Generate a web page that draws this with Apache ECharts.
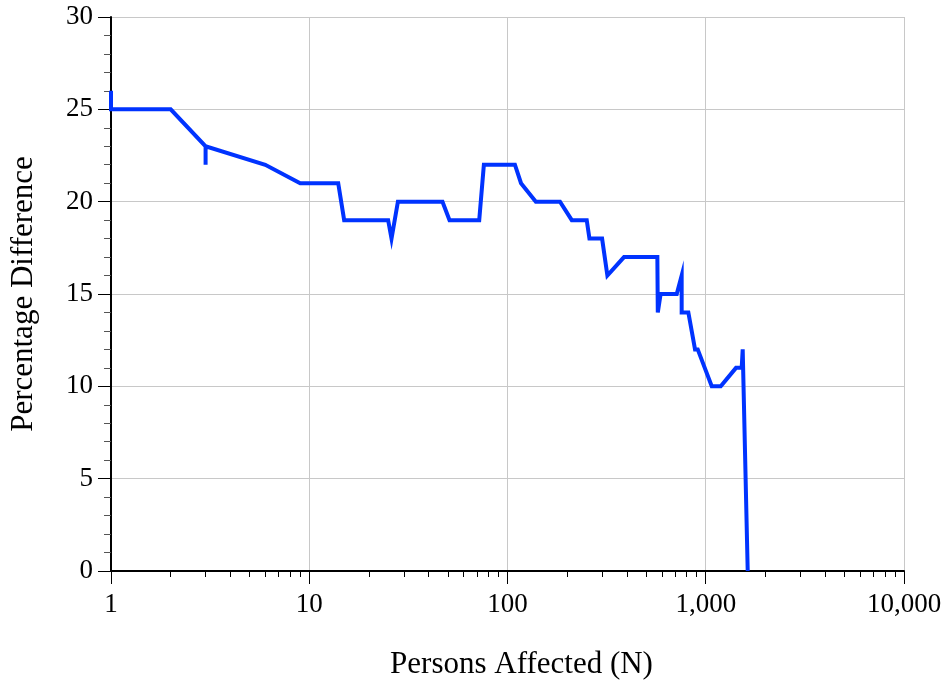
<!DOCTYPE html>
<html>
<head>
<meta charset="utf-8">
<script src="https://cdn.jsdelivr.net/npm/echarts@6/dist/echarts.min.js"></script>
<style>
html,body{margin:0;padding:0;background:#fff;}
#chart{width:942px;height:680px;}
</style>
</head>
<body>
<div id="chart"></div>
<script>
// Persons affected (N) and percentage difference
const personsAffected = [1, 1, 2, 3, 3, 3, 6, 9, 14, 15, 25, 26, 28, 47, 51, 72, 76, 109, 117, 139, 184, 211, 251, 259, 300, 319, 387, 570, 573, 592, 714, 756, 756, 817, 883, 911, 1072, 1190, 1421, 1518, 1536, 1628];
const percentageDifference = [26, 25, 25, 23, 22, 23, 22, 21, 21, 19, 19, 18, 20, 20, 19, 19, 22, 22, 21, 20, 20, 19, 19, 18, 18, 16, 17, 17, 14, 15, 15, 16, 14, 14, 12, 12, 10, 10, 11, 11, 12, 0];
const xMajorTicks = [1, 10, 100, 1000, 10000];
const xTickLabels = ['1', '10', '100', '1,000', '10,000'];
const xMinorTicks = [2,3,4,5,6,7,8,9,20,30,40,50,60,70,80,90,200,300,400,500,600,700,800,900,2000,3000,4000,5000,6000,7000,8000,9000];

const points = personsAffected.map((x, i) => [x, percentageDifference[i]]);
const font = 'Liberation Serif';

const chart = echarts.init(document.getElementById('chart'), null, {renderer: 'canvas'});
chart.setOption({
  backgroundColor: '#ffffff',
  animation: false,
  grid: {left: 111, right: 38, top: 17, bottom: 109, containLabel: false, outerBoundsMode: 'none'},
  xAxis: [{
    type: 'log', logBase: 10, min: 1, max: 10000,
    name: 'Persons Affected (N)', nameLocation: 'middle', nameGap: 78,
    nameTextStyle: {fontFamily: font, fontSize: 31, color: '#000', padding: [0, 0, 0, 28]},
    axisLine: {show: true, onZero: false, lineStyle: {color: '#000', width: 2}},
    axisTick: {show: true, length: 13, lineStyle: {color: '#000', width: 1}},
    axisLabel: {
      margin: 20, fontFamily: font, fontSize: 27, color: '#000',
      formatter: function (v) { const i = xMajorTicks.indexOf(Math.round(v)); return i >= 0 ? xTickLabels[i] : ''; }
    },
    splitLine: {show: true, lineStyle: {color: '#c8c8c8', width: 1}}
  }, {
    type: 'log', logBase: 10, min: 1, max: 10000, position: 'bottom',
    axisLine: {show: false},
    axisTick: {show: true, length: 6, customValues: xMinorTicks, lineStyle: {color: '#000', width: 1}},
    axisLabel: {show: false},
    splitLine: {show: false}
  }],
  yAxis: {
    type: 'value', min: 0, max: 30, interval: 5,
    name: 'Percentage Difference', nameLocation: 'middle', nameGap: 72,
    nameTextStyle: {fontFamily: font, fontSize: 31, color: '#000'},
    axisLine: {show: true, lineStyle: {color: '#000', width: 2}},
    axisTick: {show: true, length: 13, lineStyle: {color: '#000', width: 1}},
    minorTick: {show: true, splitNumber: 5, length: 7, lineStyle: {color: '#555', width: 1}},
    axisLabel: {margin: 18, fontFamily: font, fontSize: 27, color: '#000'},
    splitLine: {show: true, lineStyle: {color: '#c8c8c8', width: 1}}
  },
  series: [{
    type: 'line', xAxisIndex: 0, data: points, symbol: 'none', clip: false,
    lineStyle: {color: '#0033ff', width: 4, join: 'miter'},
    z: 5
  }]
});
</script>
</body>
</html>
